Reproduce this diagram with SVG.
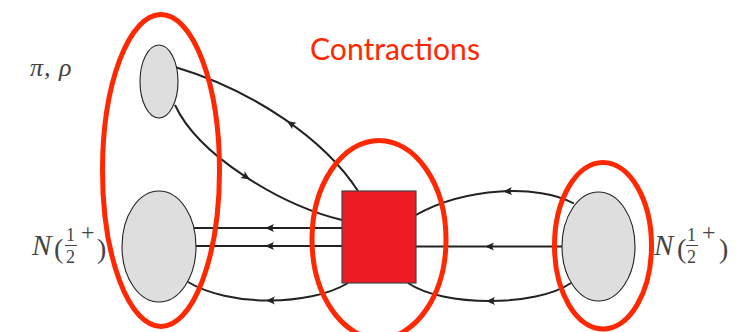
<svg xmlns="http://www.w3.org/2000/svg" xmlns:xlink="http://www.w3.org/1999/xlink" width="744" height="332" viewBox="0 0 744 332">
  <style>
    .conn { fill: none; stroke: #222; stroke-width: 2; }
    .blob { fill: #dedede; stroke: #222; stroke-width: 1.1; }
    .ring { fill: none; stroke: #ff2800; stroke-width: 5; }
    .math { font-family: "Liberation Serif", "DejaVu Serif", serif; fill: #444; }
    .it { font-style: italic; }
    .title { font-family: Lato, "Open Sans", sans-serif; font-size: 30px; fill: #ff2800; }
  </style>
  <defs>
    <path id="ah" d="M0,0 L-9,-4 Q-6,0 -9,4 Z" fill="#222"/>
  </defs>
  <rect width="744" height="332" fill="#ffffff"/>

  <g id="connectors">
    <path class="conn" d="M175,67 C255,91 325,140 358,191"/>
    <use xlink:href="#ah" href="#ah" transform="translate(287,121) rotate(214)"/>
    <path class="conn" d="M175,105 C198,155 280,205 342,220"/>
    <use xlink:href="#ah" href="#ah" transform="translate(250,179.5) rotate(33)"/>
    <path class="conn" d="M342,228 L194,228"/>
    <use xlink:href="#ah" href="#ah" transform="translate(265,228) rotate(180)"/>
    <path class="conn" d="M342,246 L196,246"/>
    <use xlink:href="#ah" href="#ah" transform="translate(265,246) rotate(180)"/>
    <path class="conn" d="M348,283 C308,307 228,306 188,282"/>
    <use xlink:href="#ah" href="#ah" transform="translate(266,300.5) rotate(180)"/>
    <path class="conn" d="M574,203.5 C539,184 465,187 415,215.5"/>
    <use xlink:href="#ah" href="#ah" transform="translate(503,191.4) rotate(178)"/>
    <path class="conn" d="M562,246.5 L416,246.5"/>
    <use xlink:href="#ah" href="#ah" transform="translate(485,246.5) rotate(180)"/>
    <path class="conn" d="M571,283 C536,307 443,307 408,283"/>
    <use xlink:href="#ah" href="#ah" transform="translate(486,301) rotate(180)"/>
  </g>

  <g id="meson">
    <ellipse class="blob" cx="159" cy="81.5" rx="19" ry="36.5"/>
    <text class="math it" font-size="26" x="30 44 50 59" y="76">π, ρ</text>
  </g>

  <g id="nucleon-left">
    <ellipse class="blob" cx="159" cy="246.5" rx="37" ry="55.5"/>
    <text class="math" font-size="29">
      <tspan class="it" x="32" y="255">N</tspan><tspan x="54" y="258" font-size="28">(</tspan><tspan x="66" y="241" font-size="18">1</tspan><tspan x="66" y="262.5" font-size="18">2</tspan><tspan x="81" y="240" font-size="24">+</tspan><tspan x="97" y="258" font-size="28">)</tspan>
    </text>
    <line x1="65" y1="245.5" x2="77" y2="245.5" stroke="#444" stroke-width="1"/>
  </g>

  <g id="vertex">
    <rect x="342" y="191" width="74" height="92" fill="#ed1c24" stroke="#444" stroke-width="1.2"/>
  </g>

  <g id="nucleon-right">
    <ellipse class="blob" cx="598.5" cy="246.5" rx="36.5" ry="54.5"/>
    <text class="math" font-size="29">
      <tspan class="it" x="654" y="255">N</tspan><tspan x="677" y="258" font-size="28">(</tspan><tspan x="687" y="241" font-size="18">1</tspan><tspan x="687" y="262.5" font-size="18">2</tspan><tspan x="702" y="240" font-size="24">+</tspan><tspan x="719" y="258" font-size="28">)</tspan>
    </text>
    <line x1="686" y1="245.5" x2="698" y2="245.5" stroke="#444" stroke-width="1"/>
  </g>

  <g id="contractions">
    <ellipse class="ring" cx="161" cy="170.5" rx="58.5" ry="156"/>
    <ellipse class="ring" cx="379" cy="239.5" rx="67" ry="99"/>
    <ellipse class="ring" cx="603" cy="245.75" rx="48.5" ry="83.25"/>
    <text class="title" x="310" y="60" textLength="170" lengthAdjust="spacingAndGlyphs">Contractions</text>
  </g>
</svg>
